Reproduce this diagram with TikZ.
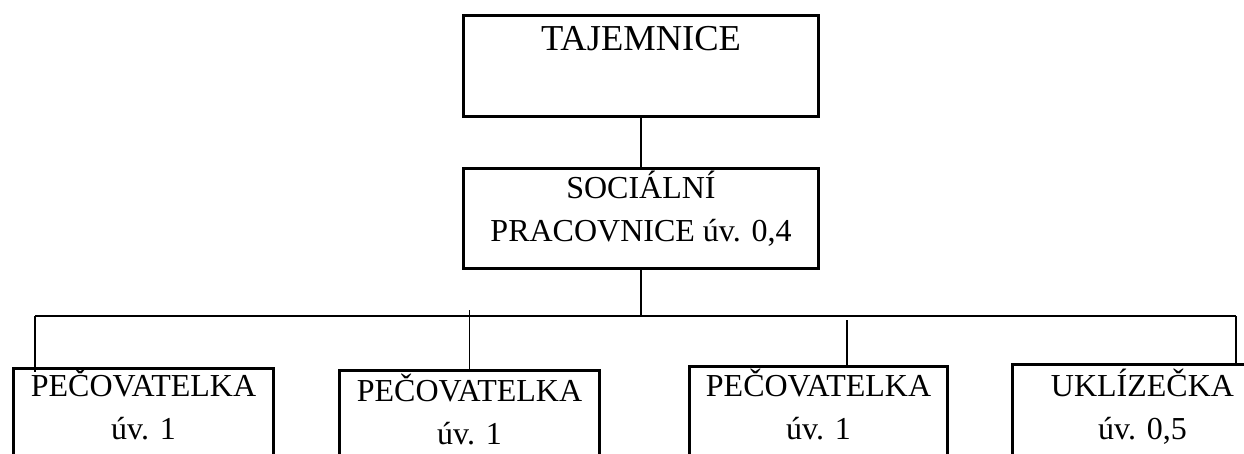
\documentclass[tikz,border=0pt]{standalone}
\usepackage{fontspec}
\setmainfont{Liberation Serif}
\tikzset{
  box/.style={draw, line width=3pt, inner sep=0pt, anchor=north west},
  spoj/.style={line width=1.1pt},
  big/.style={font=\fontsize{36.5}{44}\selectfont, anchor=base},
  txt/.style={font=\fontsize{32}{43}\selectfont, align=center, anchor=base},
}
\begin{document}
\begin{tikzpicture}[x=1pt, y=-1pt]
      \useasboundingbox (0,0) rectangle (1244,453);
      \clip (0,0) rectangle (1244,453);

            \coordinate (B0) at (35,316);
            \coordinate (B1) at (1236,316);

      \node [box, minimum width=355pt, minimum height=101pt] (TAJ) at (462,14) {};
      \node [box, minimum width=355pt, minimum height=100pt] (SOC) at (462,167) {};
      \node [box, minimum width=260pt, minimum height=120pt] (PEC1) at (12,367) {};
      \node [box, minimum width=260pt, minimum height=120pt] (PEC2) at (338,369) {};
      \node [box, minimum width=258pt, minimum height=120pt] (PEC3) at (688,365) {};
      \node [box, minimum width=260pt, minimum height=120pt] (UKL) at (1011,363) {};

      \node [big] (TAJt) at ([yshift=-36pt]TAJ.north) {TAJEMNICE};
      \node [txt] (SOCt) at ([yshift=-74pt]SOC.north) {SOCIÁLNÍ\\PRACOVNICE úv. 0,4};
      \node [txt] (PEC1t) at ([yshift=-72pt]PEC1.north) {PEČOVATELKA\\úv. 1};
      \node [txt] (PEC2t) at ([yshift=-75pt]PEC2.north) {PEČOVATELKA\\úv. 1};
      \node [txt] (PEC3t) at ([yshift=-74pt]PEC3.north) {PEČOVATELKA\\úv. 1};
      \node [txt] (UKLt) at ([yshift=-76pt]UKL.north) {UKLÍZEČKA\\úv. 0,5};

      \draw [spoj] (TAJ.south) -- (SOC.north);
      \draw [spoj] (SOC.south) -- (SOC.south |- B0);
      \draw [spoj] (B0) -- (B1);

      \draw [spoj] (B0) -- ([yshift=-5pt]B0 |- PEC1.north);
      \draw [spoj] ([yshift=6pt]PEC2.north |- B0) -- (PEC2.north);
      \draw [spoj] ([yshift=-4pt]847,316) -- (847,316 |- PEC3.north);
      \draw [spoj] (B1) -- (B1 |- UKL.north);

      \end{tikzpicture}
\end{document}
